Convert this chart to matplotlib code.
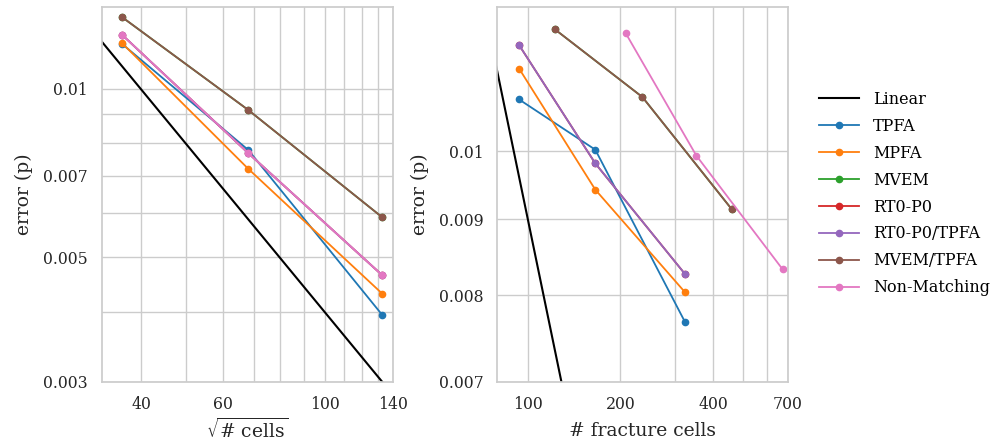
import matplotlib
matplotlib.use('Agg')
import matplotlib.pyplot as plt
from matplotlib.ticker import NullFormatter

# ---- data ----
methods = ['TPFA', 'MPFA', 'MVEM', 'RT0-P0', 'RT0-P0/TPFA', 'MVEM/TPFA',
           'Non-Matching']
colors = ['#1f77b4', '#ff7f0e', '#2ca02c', '#d62728', '#9467bd', '#8c564b',
          '#e377c2']

# left panel: error vs sqrt(# cells)
sqrt_cells = [36.3, 68.1, 132.8]
err_cells = {
    'TPFA': [0.01203, 0.00778, 0.00395],
    'MPFA': [0.01207, 0.00720, 0.00431],
    'MVEM': [0.01343, 0.00917, 0.00590],
    'RT0-P0': [0.01249, 0.00768, 0.00465],
    'RT0-P0/TPFA': [0.01249, 0.00768, 0.00465],
    'MVEM/TPFA': [0.01343, 0.00917, 0.00590],
    'Non-Matching': [0.01249, 0.00768, 0.00465],
}
linear_cells_x = [32.0, 132.8]
linear_cells_y = [0.01245, 0.00300]

# right panel: error vs # fracture cells
frac_cells = {
    'TPFA': [93.7, 165.8, 324.2],
    'MPFA': [93.7, 165.8, 324.2],
    'MVEM': [122.5, 235.9, 460.3],
    'RT0-P0': [93.7, 165.8, 324.2],
    'RT0-P0/TPFA': [93.7, 165.8, 324.2],
    'MVEM/TPFA': [122.5, 235.9, 460.3],
    'Non-Matching': [208.1, 353.2, 673.5],
}
err_frac = {
    'TPFA': [0.01083, 0.01002, 0.00768],
    'MPFA': [0.01136, 0.00942, 0.00804],
    'MVEM': [0.01207, 0.01087, 0.00914],
    'RT0-P0': [0.01178, 0.00981, 0.00827],
    'RT0-P0/TPFA': [0.01178, 0.00981, 0.00827],
    'MVEM/TPFA': [0.01207, 0.01087, 0.00914],
    'Non-Matching': [0.01200, 0.00993, 0.00833],
}
linear_frac_x = [75.0, 135.0]
linear_frac_y = [0.01200, 0.00667]

# ticks
cells_xticks = [40, 60, 100, 140]
cells_xminor = [50, 70, 80, 90, 110, 120, 130]
cells_yticks = [0.003, 0.005, 0.007, 0.01]
cells_ylabels = ['0.003', '0.005', '0.007', '0.01']
cells_yminor = [0.004, 0.006, 0.008, 0.009]
frac_xticks = [100, 200, 400, 700]
frac_xminor = [300, 500, 600]
frac_yticks = [0.007, 0.008, 0.009, 0.01]
frac_ylabels = ['0.007', '0.008', '0.009', '0.01']

plt.rcParams['font.family'] = 'DejaVu Serif'
plt.rcParams['mathtext.fontset'] = 'dejavuserif'

GRID = '#cccccc'
TEXT = '#262626'

fig = plt.figure(figsize=(10.02, 4.46), dpi=100)
ax1 = fig.add_axes([0.1015, 0.1442, 0.2904, 0.8401])
ax2 = fig.add_axes([0.4963, 0.1442, 0.2898, 0.8408])


def style_axis(ax, xt, xminor, yt, ylab, yminor):
    ax.set_xscale('log')
    ax.set_yscale('log')
    ax.set_xticks(xt, labels=[str(v) for v in xt])
    ax.set_xticks(xminor, minor=True)
    ax.set_yticks(yt, labels=ylab)
    ax.set_yticks(yminor, minor=True)
    ax.xaxis.set_minor_formatter(NullFormatter())
    ax.yaxis.set_minor_formatter(NullFormatter())
    ax.grid(True, which='both', color=GRID, linewidth=1.0)
    ax.set_axisbelow(True)
    for s in ax.spines.values():
        s.set_color(GRID)
        s.set_linewidth(1.25)
    ax.tick_params(which='both', length=0, labelsize=11.3, colors=TEXT)
    ax.tick_params(axis='x', pad=10.5)
    ax.tick_params(axis='y', pad=10)


lines = []
l, = ax1.plot(linear_cells_x, linear_cells_y, color='black', lw=1.5,
              label='Linear')
lines.append(l)
for m, c in zip(methods, colors):
    l, = ax1.plot(sqrt_cells, err_cells[m], color=c, lw=1.3, marker='o',
                  markersize=4.5, label=m)
    lines.append(l)

ax2.plot(linear_frac_x, linear_frac_y, color='black', lw=1.5)
for m, c in zip(methods, colors):
    ax2.plot(frac_cells[m], err_frac[m], color=c, lw=1.3, marker='o',
             markersize=4.5)

style_axis(ax1, cells_xticks, cells_xminor, cells_yticks, cells_ylabels,
           cells_yminor)
style_axis(ax2, frac_xticks, frac_xminor, frac_yticks, frac_ylabels, [])

ax1.set_xlim(32.8, 140)
ax1.set_ylim(0.003, 0.014)
ax2.set_xlim(79.6, 700)
ax2.set_ylim(0.007, 0.0125)

ax1.set_ylabel('error (p)', fontsize=13.5, color=TEXT, labelpad=7)
ax1.set_xlabel(r'$\sqrt{\#\ \mathrm{cells}}$', fontsize=13.5,
               color=TEXT, labelpad=3)
ax2.set_ylabel('error (p)', fontsize=13.5, color=TEXT, labelpad=7)
ax2.set_xlabel('# fracture cells', fontsize=13.5, color=TEXT,
               labelpad=6)

fig.legend(handles=lines, loc='center left', bbox_to_anchor=(0.8174, 0.566),
           frameon=False, fontsize=11.5, borderpad=0, borderaxespad=0,
           handlelength=2.5, handletextpad=0.9, labelspacing=0.62)

fig.savefig('out.png', dpi=100)
